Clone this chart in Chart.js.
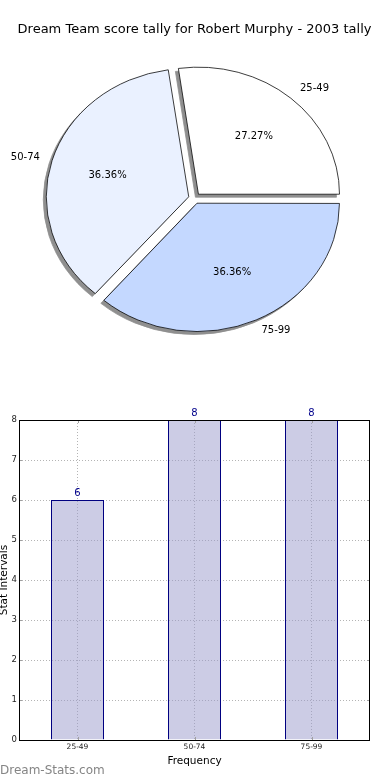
<!DOCTYPE html>
<html>
<head>
<meta charset="utf-8">
<script src="https://cdn.jsdelivr.net/npm/chart.js@4.4.0/dist/chart.umd.min.js"></script>
<style>
  html, body { margin: 0; padding: 0; background: #fff; }
  body { width: 390px; height: 780px; position: relative; overflow: hidden; font-family: "DejaVu Sans", sans-serif; }
  #pie { position: absolute; left: 0; top: 0; }
  #bar { position: absolute; left: 0; top: 400px; }
  #mark { position: absolute; left: 0; top: 763px; font-size: 12px; line-height: 14px; color: #858585; }
</style>
</head>
<body>
<canvas id="pie" width="390" height="359"></canvas>
<canvas id="bar" width="390" height="380"></canvas>
<div id="mark">Dream-Stats.com</div>
<script>
// ---------------- DATA ----------------

const titleText = "Dream Team score tally for Robert Murphy - 2003 tally";
const intervals = ["25-49", "50-74", "75-99"];
const counts = [6, 8, 8];
const sliceColors = ["#ffffff", "#eaf1ff", "#c4d8ff"];
const yTicks = [0, 1, 2, 3, 4, 5, 6, 7, 8];

// pie is drawn clockwise from 3 o'clock, so feed it reversed
const pieLabels = intervals.slice().reverse();
const pieValues = counts.slice().reverse();
const pieColors = sliceColors.slice().reverse();

Chart.defaults.font.family = '"DejaVu Sans", sans-serif';
Chart.defaults.color = "#000";

const squash = 127 / 141;   // pie is a bit flattened in the original
const shadowColor = "#8f8f8f";

// ---------------- PIE ----------------

const ellipsePlugin = {
  id: "ellipse",
  beforeDatasetsDraw(chart) {
    const arcs = chart.getDatasetMeta(0).data;
    const cx = arcs[0].x, cy = arcs[0].y;
    const ctx = chart.ctx;
    ctx.save();
    ctx.translate(cx, cy);
    ctx.scale(1, squash);
    ctx.translate(-cx, -cy);

    // shadow pass, behind every slice
    ctx.save();
    ctx.translate(-3, 3 / squash);
    arcs.forEach(arc => {
      const ghost = Object.create(arc);
      ghost.options = Object.assign({}, arc.options, { backgroundColor: shadowColor, borderColor: shadowColor });
      arc.draw.call(ghost, ctx);
    });
    ctx.restore();
  },
  afterDatasetsDraw(chart) {
    chart.ctx.restore();
  }
};

const pieLabelPlugin = {
  id: "pieLabels",
  afterDraw(chart) {
    const ctx = chart.ctx;
    const meta = chart.getDatasetMeta(0);
    const total = pieValues.reduce((a, b) => a + b, 0);
    ctx.save();
    ctx.font = '10px "DejaVu Sans"';
    ctx.fillStyle = "#000";
    ctx.textBaseline = "middle";
    meta.data.forEach((arc, i) => {
      const mid = (arc.startAngle + arc.endAngle) / 2;
      const c = Math.cos(mid), s = Math.sin(mid);
      const shift = arc.options.offset / 4;
      const r = arc.outerRadius;
      const ox = arc.x + c * shift;
      const oy = arc.y + s * shift * squash;
      ctx.textAlign = c > 0 ? "left" : "right";
      ctx.fillText(pieLabels[i], ox + c * r * 1.1, oy + s * r * 1.1 * squash);
      ctx.textAlign = "center";
      ctx.fillText((pieValues[i] / total * 100).toFixed(2) + "%", ox + c * r * 0.6, oy + s * r * 0.6 * squash);
    });
    ctx.restore();
  }
};

new Chart(document.getElementById("pie"), {
  type: "pie",
  data: {
    labels: pieLabels,
    datasets: [{
      data: pieValues,
      backgroundColor: pieColors,
      borderColor: "#000",
      borderWidth: 0.8,
      offset: 24,
      hoverOffset: 0,
      clip: false
    }]
  },
  options: {
    responsive: false,
    animation: false,
    events: [],
    rotation: 90,
    radius: 141,
    layout: { padding: { right: 1 } },
    plugins: {
      legend: { display: false },
      tooltip: { enabled: false },
      title: {
        display: true,
        text: titleText,
        color: "#000",
        font: { size: 13, weight: "normal" },
        padding: { top: 22, bottom: 0 }
      }
    }
  },
  plugins: [ellipsePlugin, pieLabelPlugin]
});

// ---------------- BAR ----------------

const framePlugin = {
  id: "frame",
  afterDraw(chart) {
    const a = chart.chartArea;
    const ctx = chart.ctx;
    const L = Math.round(a.left), R = Math.round(a.right), T = Math.round(a.top), B = Math.round(a.bottom);
    ctx.save();
    // little inner tick stubs
    ctx.strokeStyle = "#a0a0a0";
    ctx.lineWidth = 1;
    ctx.beginPath();
    chart.scales.y.ticks.forEach(t => {
      const y = Math.round(chart.scales.y.getPixelForValue(t.value)) + 0.5;
      ctx.moveTo(L, y); ctx.lineTo(L + 3, y);
      ctx.moveTo(R - 3, y); ctx.lineTo(R, y);
    });
    chart.scales.x.ticks.forEach((t, i) => {
      const x = Math.round(chart.scales.x.getPixelForTick(i)) + 0.5;
      ctx.moveTo(x, T); ctx.lineTo(x, T + 3);
      ctx.moveTo(x, B - 3); ctx.lineTo(x, B);
    });
    ctx.stroke();
    ctx.strokeStyle = "#000";
    ctx.strokeRect(L + 0.5, T + 0.5, R - L - 1, B - T);
    ctx.restore();
  }
};

const valuePlugin = {
  id: "values",
  afterDatasetsDraw(chart) {
    const ctx = chart.ctx;
    ctx.save();
    ctx.font = '10px "DejaVu Sans"';
    ctx.fillStyle = "#00008b";
    ctx.textAlign = "center";
    ctx.textBaseline = "middle";
    chart.getDatasetMeta(0).data.forEach((bar, i) => {
      ctx.fillText(String(counts[i]), bar.x, bar.y - 7);
    });
    ctx.restore();
  }
};

// grid sits under the bars; the half see-through fill lets it show like the original
const gridStyle = { color: "#b4b4b4", lineWidth: 1, drawTicks: false };

new Chart(document.getElementById("bar"), {
  type: "bar",
  data: {
    labels: intervals,
    datasets: [{
      data: counts,
      backgroundColor: "rgba(153,153,204,0.5)",
      borderColor: "#000080",
      borderWidth: 1,
      categoryPercentage: 1,
      barPercentage: 53 / 117
    }]
  },
  options: {
    responsive: false,
    animation: false,
    events: [],
    layout: { padding: { top: 20, right: 20, left: 0, bottom: 0 } },
    plugins: { legend: { display: false }, tooltip: { enabled: false } },
    scales: {
      x: {
        grid: Object.assign({ offset: false }, gridStyle),
        border: { display: false, dash: [1, 2] },
        ticks: { font: { size: 7.5 }, color: "#222", padding: 3 },
        title: { display: true, text: "Frequency", font: { size: 10.5 }, color: "#000", padding: { top: 0, bottom: 12 } },
        afterFit(s) { s.height = 40; }
      },
      y: {
        min: yTicks[0],
        max: yTicks[yTicks.length - 1],
        afterBuildTicks(s) { s.ticks = yTicks.map(v => ({ value: v })); },
        grid: gridStyle,
        border: { display: false, dash: [1, 2] },
        ticks: { font: { size: 8.5 }, color: "#222", padding: 2 },
        title: { display: true, text: "Stat Intervals", font: { size: 10.5 }, color: "#000", padding: { top: -2, bottom: 0 } },
        afterFit(s) { s.width = 19; }
      }
    }
  },
  plugins: [framePlugin, valuePlugin]
});
</script>
</body>
</html>
